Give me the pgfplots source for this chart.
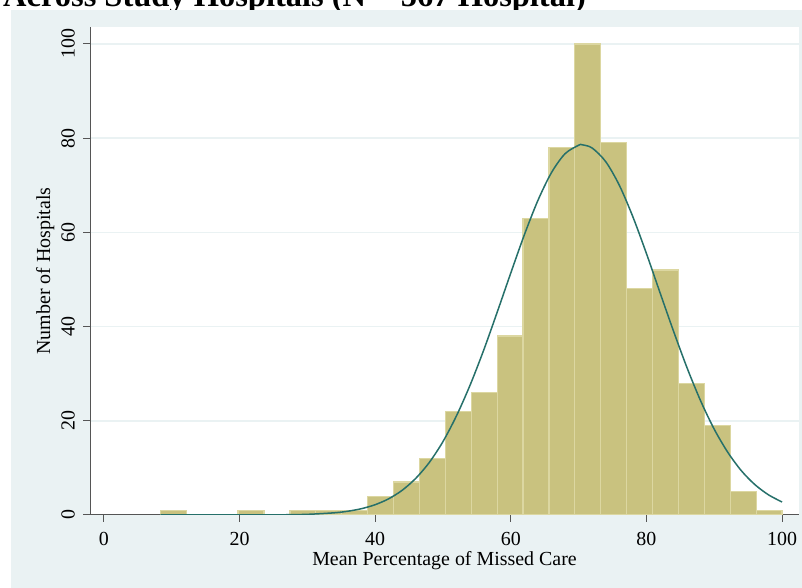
\documentclass[border=0pt]{standalone}
\usepackage{pgfplots}
\pgfplotsset{compat=1.18}
\usepackage{fontspec}
\setmainfont{Liberation Serif}
\definecolor{bgblue}{HTML}{EAF2F3}
\definecolor{barfill}{HTML}{C9C27F}
\definecolor{baredge}{HTML}{DCD7A1}
\definecolor{curvec}{HTML}{26706A}
\definecolor{axgray}{HTML}{555555}
\begin{document}
\begin{tikzpicture}[x=1bp,y=1bp]
\useasboundingbox (0,0) rectangle (802,588);
\node[anchor=base west, inner sep=0, font=\fontsize{32.6}{36}\selectfont\bfseries] at (3,581) {Across Study Hospitals (N = 567 Hospital)};
\fill[bgblue] (11,0) rectangle (802,578);
\begin{axis}[
  at={(90bp,73bp)}, anchor=south west, scale only axis,
  width=709bp, height=488bp,
  xmin=-2.06, xmax=102.5, ymin=0, ymax=103.6,
  axis lines*=left,
  axis line style={axgray, line width=1bp},
  axis background/.style={fill=white},
  xtick={0,20,...,100}, ytick={0,20,...,100},
  tick align=outside, major tick length=7bp,
  tick style={axgray, line width=1bp},
  minor tick num=0,
  ymajorgrids, grid style={bgblue, line width=1.5bp},
  /pgf/number format/assume math mode=true,
  ticklabel style={font=\fontsize{20}{24}\selectfont, inner sep=0pt},
  xticklabel style={anchor=north},
  xticklabel shift=10bp,
  yticklabel style={rotate=90, anchor=south},
  yticklabel shift=8bp,
  label style={font=\fontsize{20}{24}\selectfont, inner sep=0pt},
  xlabel={Mean Percentage of Missed Care},
  xlabel style={at={(axis description cs:0.5,-0.1025)}, anchor=base},
  ylabel={Number of Hospitals},
  ylabel style={at={(axis description cs:-0.0564,0.5)}, rotate=0, anchor=base},
]
\addplot[ybar interval, fill=barfill, draw=baredge, line width=1.2bp] coordinates {(8.32,1) (12.14,1)};
\addplot[ybar interval, fill=barfill, draw=baredge, line width=1.2bp] coordinates {(19.78,1) (23.60,1)};
\addplot[ybar interval, fill=barfill, draw=baredge, line width=1.2bp] coordinates {
(27.42,1) (31.24,1) (35.06,1) (38.88,4) (42.70,7) (46.52,12) (50.34,22) (54.16,26)
(57.98,38) (61.80,63) (65.62,78) (69.44,100) (73.26,79) (77.08,48) (80.90,52)
(84.72,28) (88.54,19) (92.36,5) (96.18,1) (100.00,1)};
\addplot[curvec, line width=1.5bp, smooth] coordinates {
(8.32,0) (14,0) (20,0.004) (26,0.04) (30,0.14) (34,0.47) (36,0.81) (38,1.35) (40,2.19)
(42,3.45) (44,5.27) (46,7.81) (48,11.2) (50,15.6) (52,21.1) (54,27.6) (56,35.0)
(58,43.1) (60,51.4) (62,59.5) (64,66.8) (66,72.7) (68,76.7) (70,78.5) (70.5,78.6)
(72,77.9) (74,75.0) (76,70.0) (78,63.3) (80,55.5) (82,47.2) (84,39.0) (86,31.2)
(88,24.2) (90,18.2) (92,13.3) (94,9.39) (96,6.44) (98,4.28) (100,2.76)};
\end{axis}
\end{tikzpicture}
\end{document}
